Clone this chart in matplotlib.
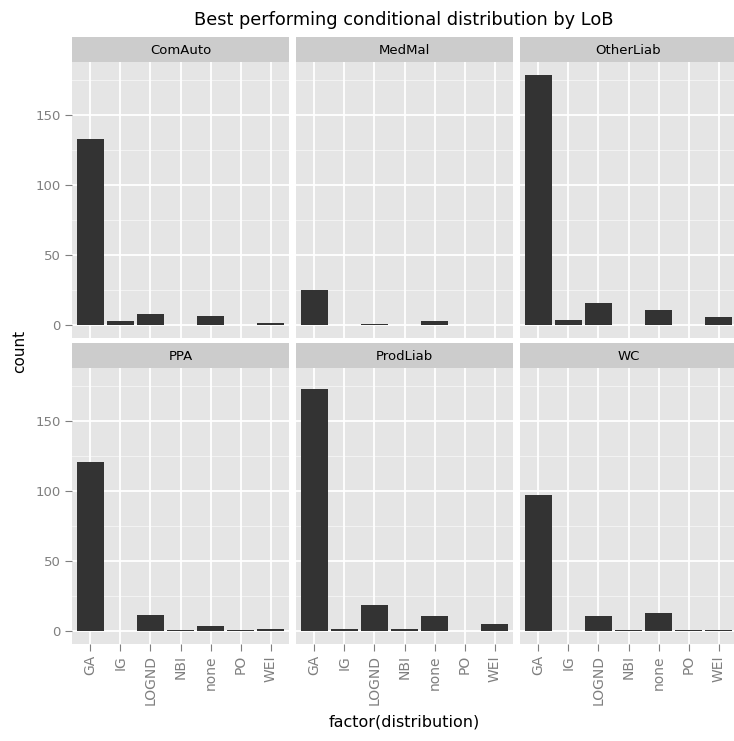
import numpy as np
from matplotlib import pyplot as plt
from matplotlib.patches import Rectangle

# counts of best performing distribution, one list per line of business
dists = ['GA', 'IG', 'LOGND', 'NBI', 'none', 'PO', 'WEI']
lobs = ['ComAuto', 'MedMal', 'OtherLiab', 'PPA', 'ProdLiab', 'WC']

comauto   = [133, 3, 8, 0, 7, 0, 2]
medmal    = [25, 0, 1, 0, 3, 0, 0]
otherliab = [179, 4, 16, 0, 11, 0, 6]
ppa       = [121, 0, 12, 1, 4, 1, 2]
prodliab  = [173, 2, 19, 2, 11, 0, 5]
wc        = [97, 0, 11, 1, 13, 1, 1]

counts = [comauto, medmal, otherliab, ppa, prodliab, wc]

W, H = 734, 741
fig = plt.figure(figsize=(W / 100, H / 100), dpi=100)
fig.patch.set_facecolor('white')

lefts = [72, 296, 520]
pw = 217
tops = [62, 368]
ph = 276
strip_h = 25

ymax = max(max(c) for c in counts)
ylo, yhi = -0.05 * ymax, 1.05 * ymax
x = np.arange(len(dists))

for i, (lob, cnt) in enumerate(zip(lobs, counts)):
    r, c = divmod(i, 3)
    ax = fig.add_axes([lefts[c] / W, 1 - (tops[r] + ph) / H, pw / W, ph / H])
    ax.set_facecolor('#E5E5E5')
    ax.set_xlim(-0.6, len(dists) - 0.4)
    ax.set_ylim(ylo, yhi)
    for v in [25, 75, 125, 175]:
        ax.axhline(v, color='#F2F2F2', lw=0.8, zorder=0)
    for v in [0, 50, 100, 150]:
        ax.axhline(v, color='white', lw=1.3, zorder=0)
    for v in x:
        ax.axvline(v, color='white', lw=1.3, zorder=0)
    ax.bar(x, cnt, width=0.9, color='#333333', zorder=2)
    for s in ax.spines.values():
        s.set_visible(False)
    ax.set_xticks(x)
    ax.set_yticks([0, 50, 100, 150])
    ax.tick_params(color='#7F7F7F', length=5, width=0.8, labelcolor='#7F7F7F')
    ax.tick_params(axis='y', labelsize=9.5, pad=3)
    ax.tick_params(axis='x', labelsize=10, pad=3)
    if r == 1:
        ax.set_xticklabels(dists, rotation=90)
    else:
        ax.tick_params(axis='x', length=0, labelbottom=False)
    if c != 0:
        ax.tick_params(axis='y', length=0, labelleft=False)

    # facet strip
    sax = fig.add_axes([lefts[c] / W, 1 - tops[r] / H, pw / W, strip_h / H])
    sax.set_xlim(0, 1)
    sax.set_ylim(0, 1)
    sax.add_patch(Rectangle((0, 0), 1, 1, color='#CCCCCC'))
    sax.text(0.5, 0.45, lob, ha='center', va='center', fontsize=9.5, color='black')
    sax.axis('off')

fig.text(404 / W, 1 - 20 / H, 'Best performing conditional distribution by LoB',
         ha='center', va='center', fontsize=12.8)
fig.text(404 / W, 1 - 722 / H, 'factor(distribution)', ha='center', va='center', fontsize=11.5)
fig.text(20 / W, 1 - 351 / H, 'count', ha='center', va='center', fontsize=11, rotation=90)

fig.savefig('out.png', dpi=100)
